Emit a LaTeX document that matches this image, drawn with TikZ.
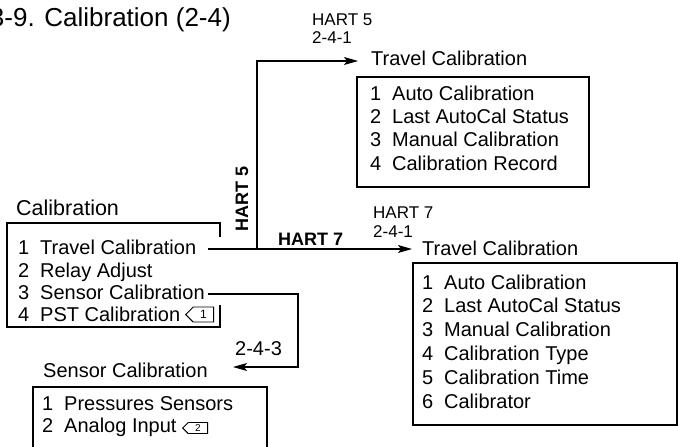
\documentclass[tikz,border=0pt]{standalone}
\usepackage{fontspec}
\setmainfont{Liberation Sans}
\usetikzlibrary{arrows.meta,shapes.symbols}
\newcommand{\itm}[2]{\makebox[22pt][l]{#1}#2}
\begin{document}
\begin{tikzpicture}[x=1pt,y=-1pt,
  txt/.style={anchor=base west,inner sep=0pt,font=\fontsize{20}{24}\selectfont},
  hdr/.style={anchor=base west,inner sep=0pt,font=\fontsize{20}{24}\selectfont},
  lbl/.style={anchor=base west,inner sep=0pt,font=\fontsize{17}{20}\selectfont},
  boldlbl/.style={anchor=base west,inner sep=0pt,font=\fontsize{18}{20}\selectfont\bfseries},
  box/.style={line width=1.1pt},
  arr/.style={line width=1.1pt,-{Stealth[length=14pt,width=8pt,inset=3pt]}},
  tagsym/.style={draw,line width=0.9pt,shape=signal,signal to=west,signal pointer angle=90,
    inner sep=0pt,anchor=west,font=\fontsize{12}{12}\selectfont}
]
\useasboundingbox (0,0) rectangle (678,447);

% title
\node[anchor=base east,inner sep=0pt,font=\fontsize{26}{30}\selectfont] (title) at (231,27) {3-9. Calibration (2-4)};

% main menu
\node[hdr,font=\fontsize{21.5}{24}\selectfont] (hc) at (16,215) {Calibration};
\node[txt] (c1) at (18,254) {\itm{1}{Travel Calibration}};
\node[txt] (c2) at (18,277) {\itm{2}{Relay Adjust}};
\node[txt] (c3) at (18,299) {\itm{3}{Sensor Calibration}};
\node[txt] (c4) at (18,321) {\itm{4}{PST Calibration}};
\node[tagsym,minimum width=28pt,minimum height=15pt] (t1) at (185,314.5) {1};
\draw[box] (220,305) -- (220,327) -- (7,327) -- (7,223) -- (220,223) -- (220,237);

% HART 5 branch
\node[lbl] (l5a) at (312,25) {HART 5};
\node[lbl] (l5b) at (312,43) {2-4-1};
\node[boldlbl,rotate=90] (h5) at (248,232) {HART 5};
\node[hdr] (tca) at (371,65) {Travel Calibration};
\node[txt] (a1) at (370,100) {\itm{1}{Auto Calibration}};
\node[txt] (a2) at (370,123.3) {\itm{2}{Last AutoCal Status}};
\node[txt] (a3) at (370,146.7) {\itm{3}{Manual Calibration}};
\node[txt] (a4) at (370,170) {\itm{4}{Calibration Record}};
\draw[box] (357,77) rectangle (589,187);

% HART 7 branch
\node[boldlbl] (h7) at (278,245) {HART 7};
\node[lbl] (l7a) at (373,218) {HART 7};
\node[lbl] (l7b) at (373,237) {2-4-1};
\node[hdr] (tcb) at (422,255) {Travel Calibration};
\node[txt] (b1) at (422,289) {\itm{1}{Auto Calibration}};
\node[txt] (b2) at (422,312.8) {\itm{2}{Last AutoCal Status}};
\node[txt] (b3) at (422,336.6) {\itm{3}{Manual Calibration}};
\node[txt] (b4) at (422,360.4) {\itm{4}{Calibration Type}};
\node[txt] (b5) at (422,384.2) {\itm{5}{Calibration Time}};
\node[txt] (b6) at (422,408) {\itm{6}{Calibrator}};
\draw[box] (413,263) rectangle (677,425);

% sensor branch
\node[txt] (l3) at (235,355) {2-4-3};
\node[hdr] (sch) at (43,377) {Sensor Calibration};
\node[txt] (s1) at (42,410) {\itm{1}{Pressures Sensors}};
\node[txt] (s2) at (42,432) {\itm{2}{Analog Input}};
\node[tagsym,minimum width=25pt,minimum height=11pt,font=\fontsize{10}{10}\selectfont] (t2) at (182,428) {2};
\draw[box] (33,460) -- (33,387) -- (267,387) -- (267,460);

% connectors
\coordinate (j1) at (208,249);
\coordinate (k5) at (257,61);
\coordinate (tipa) at (358,61);
\coordinate (tipb) at (412,249);
\coordinate (j3) at (208,294);
\coordinate (k3) at (298,367);
\coordinate (tips) at (233,367);
\draw[arr] (j1) -| (k5) -- (tipa);
\draw[arr] (j1) -- (tipb);
\draw[arr] (j3) -| (k3) -- (tips);
\end{tikzpicture}
\end{document}
